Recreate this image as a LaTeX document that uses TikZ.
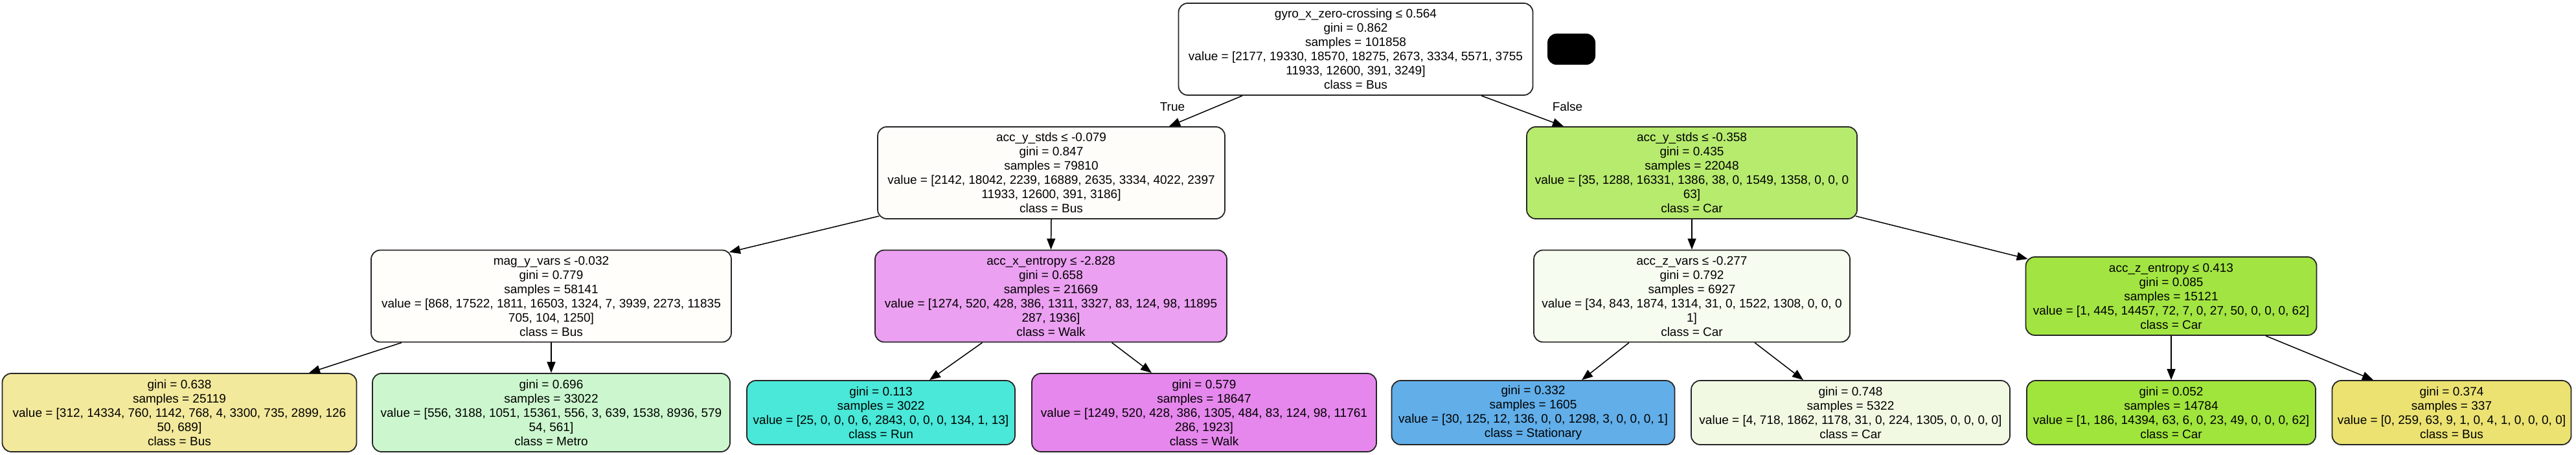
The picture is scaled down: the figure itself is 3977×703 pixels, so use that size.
\documentclass[tikz,border=0pt]{standalone}
\usepackage{fontspec}
\setmainfont{Liberation Sans}
\usetikzlibrary{arrows.meta}
\definecolor{cL1L}{RGB}{255,253,250}
\definecolor{cL1R}{RGB}{183,235,110}
\definecolor{cMag}{RGB}{255,254,250}
\definecolor{cAccX}{RGB}{235,160,241}
\definecolor{cAzv}{RGB}{247,252,240}
\definecolor{cAze}{RGB}{162,229,66}
\definecolor{cLBus}{RGB}{243,233,156}
\definecolor{cMetro}{RGB}{204,247,206}
\definecolor{cRun}{RGB}{73,232,216}
\definecolor{cWalk}{RGB}{230,135,237}
\definecolor{cStat}{RGB}{97,174,233}
\definecolor{cCarA}{RGB}{241,249,227}
\definecolor{cCarB}{RGB}{160,229,60}
\definecolor{cBusB}{RGB}{235,226,114}
\begin{document}
\begin{tikzpicture}[x=1pt,y=-1pt,
  tn/.style={draw=black!85, line width=1.8pt, rounded corners=14pt, align=center, inner sep=0pt, font=\fontsize{19}{22}\selectfont},
  six/.style={tn, minimum height=142pt},
  five/.style={tn, minimum height=121pt},
  four/.style={tn, minimum height=99pt},
  edgearrow/.style={line width=1.5pt, -{Triangle[length=17pt,width=13pt]}},
  lbl/.style={font=\fontsize{19}{22}\selectfont, inner sep=0pt}]
\fill[white] (0,0) rectangle (3977,703);
\useasboundingbox (0,0) rectangle (3977,703);

% level 0
\node[six, fill=white, minimum width=547pt] (root) at (2093,76)
  {gyro\_x\_zero-crossing ≤ 0.564\\gini = 0.862\\samples = 101858\\value = [2177, 19330, 18570, 18275, 2673, 3334, 5571, 3755\\11933, 12600, 391, 3249]\\class = Bus};
\node[fill=black, rounded corners=14pt, minimum width=74pt, minimum height=48pt, inner sep=0pt] (blob) at (2426,76) {};

% level 1
\node[six, fill=cL1L, minimum width=536pt] (l1l) at (1623,267)
  {acc\_y\_stds ≤ -0.079\\gini = 0.847\\samples = 79810\\value = [2142, 18042, 2239, 16889, 2635, 3334, 4022, 2397\\11933, 12600, 391, 3186]\\class = Bus};
\node[six, fill=cL1R, minimum width=510pt] (l1r) at (2612,267)
  {acc\_y\_stds ≤ -0.358\\gini = 0.435\\samples = 22048\\value = [35, 1288, 16331, 1386, 38, 0, 1549, 1358, 0, 0, 0\\63]\\class = Car};

% level 2
\node[six, fill=cMag, minimum width=556pt] (mag) at (851,457.5)
  {mag\_y\_vars ≤ -0.032\\gini = 0.779\\samples = 58141\\value = [868, 17522, 1811, 16503, 1324, 7, 3939, 2273, 11835\\705, 104, 1250]\\class = Bus};
\node[six, fill=cAccX, minimum width=543pt] (accx) at (1622.5,457.5)
  {acc\_x\_entropy ≤ -2.828\\gini = 0.658\\samples = 21669\\value = [1274, 520, 428, 386, 1311, 3327, 83, 124, 98, 11895\\287, 1936]\\class = Walk};
\node[six, fill=cAzv, minimum width=488pt] (azv) at (2612,457.5)
  {acc\_z\_vars ≤ -0.277\\gini = 0.792\\samples = 6927\\value = [34, 843, 1874, 1314, 31, 0, 1522, 1308, 0, 0, 0\\1]\\class = Car};
\node[five, fill=cAze, minimum width=449pt] (aze) at (3352,457.5)
  {acc\_z\_entropy ≤ 0.413\\gini = 0.085\\samples = 15121\\value = [1, 445, 14457, 72, 7, 0, 27, 50, 0, 0, 0, 62]\\class = Car};

% level 3
\node[five, fill=cLBus, minimum width=547pt] (lbus) at (277,637.5)
  {gini = 0.638\\samples = 25119\\value = [312, 14334, 760, 1142, 768, 4, 3300, 735, 2899, 126\\50, 689]\\class = Bus};
\node[five, fill=cMetro, minimum width=552pt] (metro) at (851,637.5)
  {gini = 0.696\\samples = 33022\\value = [556, 3188, 1051, 15361, 556, 3, 639, 1538, 8936, 579\\54, 561]\\class = Metro};
\node[four, fill=cRun, minimum width=414pt] (run) at (1360,637.5)
  {gini = 0.113\\samples = 3022\\value = [25, 0, 0, 0, 6, 2843, 0, 0, 0, 134, 1, 13]\\class = Run};
\node[five, fill=cWalk, minimum width=532pt] (walk) at (1859,637.5)
  {gini = 0.579\\samples = 18647\\value = [1249, 520, 428, 386, 1305, 484, 83, 124, 98, 11761\\286, 1923]\\class = Walk};
\node[four, fill=cStat, minimum width=437pt] (stat) at (2367,637.5)
  {gini = 0.332\\samples = 1605\\value = [30, 125, 12, 136, 0, 0, 1298, 3, 0, 0, 0, 1]\\class = Stationary};
\node[four, fill=cCarA, minimum width=492pt] (carA) at (2857,637.5)
  {gini = 0.748\\samples = 5322\\value = [4, 718, 1862, 1178, 31, 0, 224, 1305, 0, 0, 0, 0]\\class = Car};
\node[four, fill=cCarB, minimum width=446pt] (carB) at (3352,637.5)
  {gini = 0.052\\samples = 14784\\value = [1, 186, 14394, 63, 6, 0, 23, 49, 0, 0, 0, 62]\\class = Car};
\node[four, fill=cBusB, minimum width=369pt] (busB) at (3785,637.5)
  {gini = 0.374\\samples = 337\\value = [0, 259, 63, 9, 1, 0, 4, 1, 0, 0, 0, 0]\\class = Bus};

% labels
\node[lbl] (truelbl) at (1810,165) {True};
\node[lbl] (falselbl) at (2420,165) {False};

% edges
\draw[edgearrow] ([xshift=-175pt]root.south) -- ([xshift=182pt]l1l.north);
\draw[edgearrow] ([xshift=194pt]root.south) -- ([xshift=-198pt]l1r.north);
\draw[edgearrow] ([xshift=3pt,yshift=5pt]l1l.south west) -- ([xshift=-4pt,yshift=-4pt]mag.north east);
\draw[edgearrow] (l1l.south) -- (accx.north);
\draw[edgearrow] (l1r.south) -- (azv.north);
\draw[edgearrow] ([xshift=-3pt,yshift=5pt]l1r.south east) -- ([xshift=4pt,yshift=-4pt]aze.north west);
\draw[edgearrow] ([xshift=-231pt]mag.south) -- ([xshift=200pt]lbus.north);
\draw[edgearrow] (mag.south) -- (metro.north);
\draw[edgearrow] ([xshift=-106pt]accx.south) -- ([xshift=75pt]run.north);
\draw[edgearrow] ([xshift=94pt]accx.south) -- ([xshift=-81pt]walk.north);
\draw[edgearrow] ([xshift=-97pt]azv.south) -- ([xshift=75pt]stat.north);
\draw[edgearrow] ([xshift=97pt]azv.south) -- ([xshift=-73pt]carA.north);
\draw[edgearrow] (aze.south) -- (carB.north);
\draw[edgearrow] ([xshift=146pt]aze.south) -- ([xshift=-121pt]busB.north);
\end{tikzpicture}
\end{document}
